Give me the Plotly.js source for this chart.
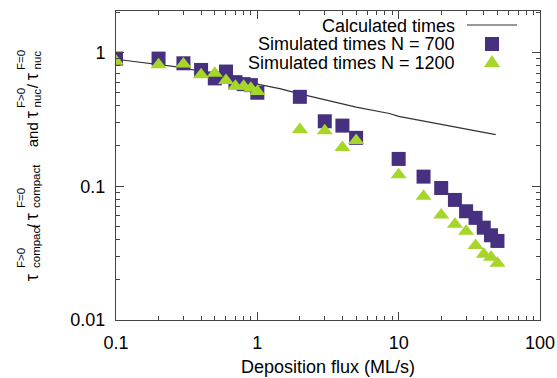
<!DOCTYPE html>
<html>
<head>
<meta charset="utf-8">
<script src="https://cdn.plot.ly/plotly-3.0.1.min.js"></script>
<style>html,body{margin:0;padding:0;background:#fff;}#chart{width:557px;height:378px;}</style>
</head>
<body>
<div id="chart"></div>
<script>
// ---- data ----
const fluxSim = [0.1,0.2,0.3,0.4,0.5,0.6,0.7,0.8,0.9,1,2,3,4,5,10,15,20,25,30,35,40,45,50];
const simN700 = [0.90,0.90,0.83,0.74,0.64,0.72,0.60,0.58,0.57,0.50,0.466,0.306,0.284,0.23,0.16,0.118,0.097,0.079,0.065,0.058,0.049,0.043,0.039];
const simN1200 = [0.86,0.81,0.82,0.68,0.70,0.617,0.56,0.56,0.54,0.51,0.265,0.26,0.195,0.22,0.122,0.084,0.061,0.052,0.046,0.036,0.031,0.0295,0.0266];
const fluxCalc = [0.1,0.18,0.27,0.5,1,1.44,2,5,8.6,10,20,48.6];
const calcTimes = [0.89,0.827,0.78,0.69,0.58,0.537,0.49,0.39,0.35,0.333,0.29,0.243];
const xTickVals = [0.1,1,10,100];
const xTickText = ['0.1','1','10','100'];
const yTickVals = [0.01,0.1,1];
const yTickText = ['0.01','0.1','1'];
const legendNames = ['Calculated times','Simulated times N = 700','Simulated times N = 1200'];

const FONT = 'Liberation Sans, Arial, sans-serif';
const purple = '#46307f';
const green = '#a6d629';

const L = 116, R = 540, T = 11, B = 320;
const W = 557, H = 378;

const xMinor = [], yMinor = [];
[0.1,1,10].forEach(d => { for (let k=2;k<=9;k++) xMinor.push(d*k); });
[0.01,0.1,1].forEach(d => { for (let k=2;k<=9;k++) yMinor.push(d*k); });

const traces = [
  {x: fluxCalc, y: calcTimes, mode:'lines', line:{color:'#333', width:1.2}, name: legendNames[0], hoverinfo:'skip'},
  {x: fluxSim, y: simN700, mode:'markers', marker:{symbol:'square', size:14, color:purple, line:{width:0}}, name: legendNames[1]},
  {x: fluxSim, y: simN1200, mode:'markers', marker:{symbol:'triangle-up', size:14, color:green, line:{width:0}}, name: legendNames[2]}
];

// ---- legend (right aligned text, key on right) ----
const annotations = [];
const shapes = [];
const px2x = p => (p - L) / (R - L);
const px2y = p => (B - p) / (B - T);
const rows = [26, 44, 62];
legendNames.forEach((n, i) => {
  annotations.push({xref:'paper', yref:'paper', x: px2x(455), y: px2y(rows[i]), xanchor:'right', yanchor:'middle',
    text: n, showarrow:false, height:17, font:{family:FONT, size:18, color:'#000'}, borderpad:0, borderwidth:0});
});
shapes.push({type:'line', xref:'paper', yref:'paper', x0:px2x(467), x1:px2x(517), y0:px2y(rows[0]-1), y1:px2y(rows[0]-1), line:{color:'#333', width:1.2}});
shapes.push({type:'rect', xref:'paper', yref:'paper', x0:px2x(485), x1:px2x(499), y0:px2y(rows[1]-7), y1:px2y(rows[1]+7), fillcolor:purple, line:{width:0}});
shapes.push({type:'path', xref:'paper', yref:'paper',
  path:`M ${px2x(484)} ${px2y(rows[2]+5)} L ${px2x(500)} ${px2y(rows[2]+5)} L ${px2x(492)} ${px2y(rows[2]-7)} Z`,
  fillcolor:green, line:{width:0}});

// ---- y-axis title built from pieces with stacked super/subscripts ----
const MAINFS = 15, TAUFS = 18, SUBFS = 11.5;
const mainBase = 38, subBase = 40, supBase = 25;
// [text, size, baseline, bottom start px]
const titlePieces = [
  ['τ', TAUFS, mainBase, 281], ['compact', SUBFS, subBase, 268], ['F>0', SUBFS, supBase, 268],
  ['/', MAINFS, mainBase, 228],
  ['τ', TAUFS, mainBase, 220], ['compact', SUBFS, subBase, 208], ['F=0', SUBFS, supBase, 208],
  ['and', MAINFS, mainBase, 147],
  ['τ', TAUFS, mainBase, 118], ['nuc', SUBFS, subBase, 108], ['F>0', SUBFS, supBase, 108],
  ['/', MAINFS, mainBase, 88],
  ['τ', TAUFS, mainBase, 80], ['nuc', SUBFS, subBase, 70], ['F=0', SUBFS, supBase, 70]
];
titlePieces.forEach(([text, fs, base, startPx]) => {
  const cx = base - 0.3465*fs;
  annotations.push({xref:'paper', yref:'paper', x:0, y:0, xshift: cx - L, yshift: B - startPx,
    xanchor:'center', yanchor:'bottom', textangle:-90, text:text, showarrow:false,
    font:{family:FONT, size:fs, color:'#000'}, borderpad:0, borderwidth:0});
});

const axisCommon = {
  type:'log', ticks:'inside', ticklen:8, tickwidth:1, tickcolor:'#444',
  showline:true, linecolor:'#444', linewidth:1, mirror:'allticks',
  showgrid:false, zeroline:false,
  tickfont:{family:FONT, size:18, color:'#000'},
  tickmode:'array', ticklabelstandoff: 6
};

const layout = {
  width:W, height:H,
  margin:{l:L, r:W-R, t:T, b:H-B, pad:0},
  paper_bgcolor:'#fff', plot_bgcolor:'#fff',
  showlegend:false,
  xaxis: Object.assign({}, axisCommon, {
    range:[-1, 2], tickvals:xTickVals, ticktext:xTickText,
    minor:{ticks:'inside', ticklen:4, tickcolor:'#444', tickmode:'array', tickvals:xMinor, showgrid:false},
    title:{text:'Deposition flux (ML/s)', font:{family:FONT, size:18, color:'#000'}, standoff:8}
  }),
  yaxis: Object.assign({}, axisCommon, {
    range:[-2, 0.31], tickvals:yTickVals, ticktext:yTickText,
    minor:{ticks:'inside', ticklen:4, tickcolor:'#444', tickmode:'array', tickvals:yMinor, showgrid:false}
  }),
  annotations: annotations,
  shapes: shapes
};

Plotly.newPlot('chart', traces, layout, {displayModeBar:false, staticPlot:true});
</script>
</body>
</html>
